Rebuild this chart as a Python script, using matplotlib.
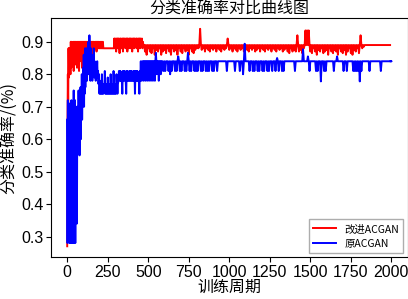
import numpy as np
import matplotlib
matplotlib.use('Agg')
import matplotlib.pyplot as plt

# -------------------------------------------------------------------
# DATOS
# -------------------------------------------------------------------
# cada tramo: (epoca inicial, paso, valores)
red_start = (0, 2, [0.27, 0.66, 0.80, 0.70, 0.88, 0.79, 0.88, 0.82, 0.88, 0.86, 0.80])
red_dense_a = (22, 3, [0.90, 0.82, 0.90, 0.84, 0.88, 0.90, 0.81, 0.90, 0.86, 0.90, 0.83, 0.90, 0.88, 0.82,
                       0.90, 0.85, 0.90, 0.81, 0.90, 0.87, 0.90, 0.84, 0.90, 0.82, 0.90, 0.86, 0.90,
                       0.84, 0.90, 0.88, 0.90, 0.85, 0.90, 0.87, 0.90, 0.89, 0.86, 0.90, 0.88, 0.90, 0.84,
                       0.90, 0.87, 0.90, 0.88, 0.90, 0.86, 0.90, 0.89, 0.88, 0.90, 0.88, 0.90, 0.87, 0.90,
                       0.88, 0.90, 0.88, 0.90, 0.88, 0.88, 0.90, 0.88, 0.90, 0.88, 0.88, 0.90, 0.88, 0.88])
red_flat = (230, 58, [0.88, 0.88])
red_dense_b = (290, 3, [0.91, 0.88, 0.91, 0.90, 0.87, 0.91, 0.89, 0.91, 0.88, 0.91, 0.90, 0.865, 0.91, 0.89,
                        0.91, 0.88, 0.90, 0.91, 0.87, 0.91, 0.89, 0.91, 0.90, 0.88, 0.91, 0.89, 0.91, 0.87,
                        0.91, 0.90, 0.88, 0.91, 0.89, 0.91, 0.88, 0.91, 0.90, 0.87, 0.91, 0.89, 0.91, 0.88,
                        0.91, 0.90, 0.89, 0.91, 0.88, 0.91, 0.90, 0.87, 0.91, 0.89, 0.91, 0.88, 0.91, 0.90,
                        0.89, 0.91, 0.88, 0.90, 0.89, 0.89])
# base 0.89 con picos cada 10 épocas desde 475
red_comb_base = 0.89
red_comb = (475, 10, [0.87, 0.86, 0.88, 0.87, 0.865, 0.88, 0.86, 0.875, 0.87, 0.88, 0.86, 0.87, 0.875, 0.865,
                      0.88, 0.87, 0.86, 0.88, 0.87, 0.875, 0.86, 0.88, 0.87, 0.865, 0.88, 0.87, 0.875, 0.86,
                      0.88, 0.87, 0.865, 0.875, 0.88,
                      0.88, 0.94,
                      0.875, 0.88, 0.87, 0.88, 0.875, 0.87, 0.88, 0.875, 0.88, 0.87, 0.88, 0.875, 0.87,
                      0.88, 0.875, 0.88,
                      0.91,
                      0.875, 0.88, 0.87, 0.88, 0.875, 0.87, 0.88, 0.875, 0.88, 0.87, 0.88, 0.875, 0.87,
                      0.88, 0.875, 0.88, 0.87, 0.875, 0.88, 0.87, 0.88, 0.875, 0.87, 0.88, 0.875, 0.88,
                      0.87, 0.88, 0.875, 0.87, 0.88, 0.875, 0.88, 0.87, 0.875, 0.88, 0.87, 0.865, 0.88,
                      0.87, 0.875, 0.87,
                      0.92,
                      0.87, 0.875, 0.865, 0.88,
                      0.935, 0.935, 0.935,
                      0.87, 0.865, 0.88, 0.87, 0.86, 0.875, 0.87, 0.88, 0.865, 0.87, 0.875, 0.86, 0.88,
                      0.87, 0.865, 0.875, 0.87, 0.86, 0.88, 0.87, 0.865, 0.875, 0.86, 0.87, 0.88, 0.865,
                      0.86, 0.875, 0.87, 0.88, 0.865,
                      0.92,
                      0.88, 0.885, 0.89])
red_end = (1992, 1, [0.89])

blue_a = (0, 2, [0.66, 0.28, 0.72, 0.40, 0.70, 0.30, 0.62, 0.28, 0.71, 0.45, 0.28, 0.68, 0.35, 0.72, 0.28,
                 0.66, 0.50, 0.28, 0.70, 0.30, 0.75, 0.28, 0.68, 0.40, 0.72, 0.28, 0.65, 0.35, 0.70, 0.55,
                 0.34, 0.68, 0.60])
blue_b = (66, 2, [0.70, 0.58, 0.75, 0.62, 0.72, 0.55, 0.70, 0.65, 0.76, 0.60, 0.72, 0.68, 0.80, 0.66, 0.74,
                  0.70, 0.82, 0.72, 0.86, 0.70, 0.84, 0.74, 0.88, 0.76, 0.85])
blue_c = (116, 3, [0.80, 0.88, 0.78, 0.86, 0.82, 0.90, 0.80, 0.92, 0.84, 0.78, 0.88, 0.82, 0.86, 0.78, 0.84,
                   0.80, 0.88, 0.79, 0.84, 0.82, 0.78, 0.83, 0.80, 0.84, 0.79])
blue_d = (190, 3, [0.81, 0.77, 0.80, 0.74, 0.78, 0.74, 0.77, 0.74, 0.80, 0.74, 0.77, 0.74, 0.77, 0.75, 0.81,
                   0.74, 0.77, 0.74, 0.77, 0.74, 0.79, 0.74, 0.77, 0.74, 0.77, 0.74, 0.80, 0.74, 0.77, 0.74,
                   0.77, 0.74, 0.81, 0.74, 0.77, 0.74, 0.77, 0.74, 0.80, 0.77, 0.74, 0.77, 0.78, 0.81])
blue_e = (322, 3, [0.81, 0.78, 0.81, 0.78, 0.80, 0.78, 0.74, 0.81, 0.78, 0.81, 0.78, 0.81, 0.79, 0.78, 0.74,
                   0.81, 0.78, 0.81, 0.78, 0.80, 0.78, 0.81, 0.78, 0.81, 0.78, 0.81, 0.78, 0.80, 0.78, 0.81,
                   0.78, 0.81, 0.74, 0.81, 0.78, 0.81, 0.78, 0.81, 0.78, 0.80, 0.78, 0.74, 0.81, 0.78, 0.84,
                   0.78, 0.81, 0.84])
blue_f = (466, 3, [0.84, 0.78, 0.84, 0.80, 0.84, 0.78, 0.84, 0.81, 0.84, 0.78, 0.84, 0.80, 0.84, 0.78, 0.84,
                   0.81, 0.84, 0.78, 0.84, 0.80, 0.84, 0.78, 0.84, 0.81, 0.84, 0.78, 0.84, 0.866, 0.84, 0.80,
                   0.84, 0.81, 0.84, 0.78, 0.84, 0.81, 0.84, 0.80, 0.84, 0.81, 0.84])
# base 0.84 con picos cada 10 épocas desde 590
blue_comb_base = 0.84
blue_comb = (590, 10, [0.81, 0.81, 0.84, 0.81, 0.80, 0.81, 0.84, 0.81, 0.81, 0.855,
                       0.81, 0.81, 0.84, 0.81, 0.81, 0.866, 0.81, 0.81, 0.84, 0.81,
                       0.81, 0.81, 0.84, 0.81, 0.81, 0.84, 0.81, 0.81, 0.81, 0.84,
                       0.81, 0.81, 0.84, 0.81, 0.84, 0.84, 0.84, 0.84, 0.84, 0.81,
                       0.84, 0.84, 0.84, 0.84, 0.81, 0.84, 0.84, 0.81, 0.84, 0.80,
                       0.894, 0.84, 0.84, 0.81, 0.84, 0.81, 0.81, 0.84, 0.81, 0.81,
                       0.84, 0.81, 0.81, 0.84, 0.81, 0.81, 0.84, 0.81, 0.84, 0.81,
                       0.85, 0.81, 0.84, 0.81, 0.81, 0.84, 0.84, 0.84, 0.84, 0.84,
                       0.84, 0.81, 0.84, 0.84, 0.84, 0.84, 0.877, 0.84, 0.84, 0.855,
                       0.81, 0.84, 0.84, 0.84, 0.81, 0.81, 0.84, 0.778, 0.84, 0.81,
                       0.81, 0.84, 0.84, 0.84, 0.84, 0.81, 0.84, 0.855, 0.84, 0.84,
                       0.84, 0.81, 0.84, 0.81, 0.84, 0.84, 0.84, 0.81, 0.81, 0.81,
                       0.81, 0.778, 0.81, 0.84, 0.84, 0.84, 0.84, 0.81, 0.84, 0.84,
                       0.84, 0.84, 0.84, 0.84, 0.81, 0.84, 0.84, 0.84, 0.84, 0.84,
                       0.84])
blue_end = (1996, 1, [0.84])


def tramo(seg):
    ini, paso, vals = seg
    return ini + paso * np.arange(len(vals)), np.array(vals)


def peine(seg, base):
    # alterna la base con cada valor medido (picos verticales)
    ini, paso, vals = seg
    xs, ys = [], []
    for i, v in enumerate(vals):
        xs += [ini + paso * i, ini + paso * i + paso / 2]
        ys += [base, v]
    xs.append(ini + paso * len(vals))
    ys.append(base)
    return np.array(xs), np.array(ys)


def unir(partes):
    return np.concatenate([p[0] for p in partes]), np.concatenate([p[1] for p in partes])


x_red, y_red = unir([tramo(red_start), tramo(red_dense_a), tramo(red_flat), tramo(red_dense_b),
                     peine(red_comb, red_comb_base), tramo(red_end)])
x_blue, y_blue = unir([tramo(blue_a), tramo(blue_b), tramo(blue_c), tramo(blue_d), tramo(blue_e),
                       tramo(blue_f), peine(blue_comb, blue_comb_base), tramo(blue_end)])

# -------------------------------------------------------------------
# GRÁFICO
# -------------------------------------------------------------------
cjk = ['Noto Sans CJK SC', 'DejaVu Sans']
plt.rcParams['font.family'] = ['Liberation Sans', 'Noto Sans CJK SC']

fig = plt.figure(figsize=(4.08, 2.99), dpi=100)
ax = fig.add_axes([0.125, 0.14, 0.874, 0.80])

ax.plot(x_red, y_red, color='red', linewidth=1.4, label='改进ACGAN')
ax.plot(x_blue, y_blue, color='blue', linewidth=1.4, label='原ACGAN')

ax.set_xticks(np.arange(0, 2001, 250))
ax.set_yticks([0.3, 0.4, 0.5, 0.6, 0.7, 0.8, 0.9])
ax.tick_params(labelsize=11.5, pad=2)
ax.set_title('分类准确率对比曲线图', family=cjk, fontsize=11.5, pad=2)
ax.set_xlabel('训练周期', family=cjk, fontsize=11.5, labelpad=-1)
ax.set_ylabel('分类准确率/(%)', family=cjk, fontsize=11.5, labelpad=2)
ax.legend(loc='lower right', prop={'family': cjk, 'size': 7.5}, fancybox=False,
          edgecolor='#999999', handlelength=2.2, borderaxespad=0.4)

fig.savefig('out.png', dpi=100)
